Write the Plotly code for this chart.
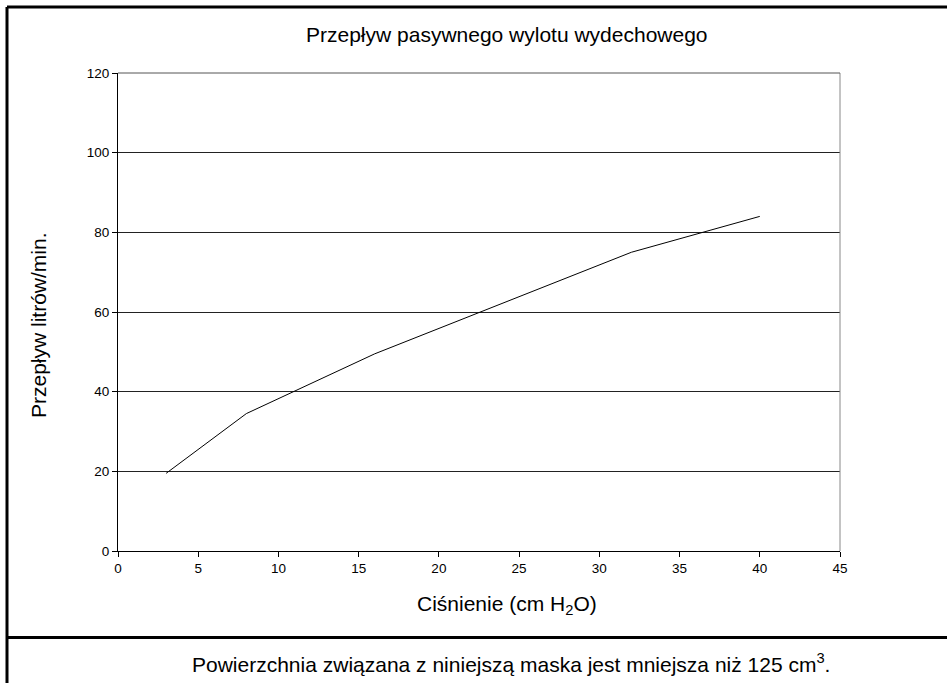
import plotly.graph_objects as go

pressure = [3, 8, 16, 32, 40]
flow = [19.5, 34.5, 49.5, 75, 84]
x_ticks = [0, 5, 10, 15, 20, 25, 30, 35, 40, 45]
y_ticks = [0, 20, 40, 60, 80, 100, 120]

title_text = "Przepływ pasywnego wylotu wydechowego"
x_title = "Ciśnienie (cm H<sub>2</sub>O)"
y_title = "Przepływ litrów/min."
footnote = "Powierzchnia związana z niniejszą maska jest mniejsza niż 125 cm<sup>3</sup>."

W, H = 947, 683
L, R, T, B = 118, 840, 73, 551

def px(x):
    return (x - L) / (R - L)

def py(y):
    return (B - y) / (B - T)

font = "Liberation Sans, Arial, sans-serif"
TXT = 21

fig = go.Figure()
fig.add_trace(go.Scatter(x=pressure, y=flow, mode="lines",
                         line=dict(color="black", width=1), showlegend=False,
                         hoverinfo="skip"))

fig.update_layout(
    width=W, height=H,
    margin=dict(l=L, r=W - R, t=T, b=H - B),
    paper_bgcolor="white", plot_bgcolor="white",
    font=dict(family=font, color="black"),
    xaxis=dict(range=[0, 45], tickvals=x_ticks, ticks="outside", ticklen=5,
               tickcolor="black", showline=True, linecolor="black", linewidth=1,
               showgrid=False, zeroline=False, tickfont=dict(size=13.5, family=font),
               fixedrange=True),
    yaxis=dict(range=[0, 120], tickvals=y_ticks, ticks="outside", ticklen=5,
               tickcolor="black", showline=True, linecolor="black", linewidth=1,
               showgrid=True, gridcolor="#222", gridwidth=1, zeroline=False,
               tickfont=dict(size=13.5, family=font), fixedrange=True),
    annotations=[
        dict(text=title_text, x=px(506.5), y=py(35), xref="paper", yref="paper",
             showarrow=False, font=dict(size=TXT, family=font), xanchor="center", yanchor="middle"),
        dict(text=x_title, x=px(506.5), y=py(605), xref="paper", yref="paper",
             showarrow=False, font=dict(size=TXT, family=font), xanchor="center", yanchor="middle"),
        dict(text=y_title, x=px(38), y=py(325), xref="paper", yref="paper", textangle=-90,
             showarrow=False, font=dict(size=TXT, family=font), xanchor="center", yanchor="middle"),
        dict(text=footnote, x=px(511), y=py(663), xref="paper", yref="paper",
             showarrow=False, font=dict(size=TXT, family=font), xanchor="center", yanchor="middle"),
    ],
    shapes=[
        dict(type="line", xref="paper", yref="paper", x0=1, x1=1, y0=0, y1=1,
             line=dict(color="#888", width=1)),
        dict(type="line", xref="paper", yref="paper", x0=0, x1=1, y0=1, y1=1,
             line=dict(color="#555", width=1)),
        dict(type="line", xref="paper", yref="paper", x0=px(7), x1=px(7), y0=py(7), y1=py(700),
             line=dict(color="black", width=3)),
        dict(type="line", xref="paper", yref="paper", x0=px(7), x1=px(960), y0=py(7), y1=py(7),
             line=dict(color="black", width=3)),
        dict(type="line", xref="paper", yref="paper", x0=px(7), x1=px(960), y0=py(637.5), y1=py(637.5),
             line=dict(color="black", width=3)),
    ],
)

fig.write_html("out.html", config={"displayModeBar": False},
               post_script="document.body.style.margin='0px';document.body.style.overflow='hidden';")
